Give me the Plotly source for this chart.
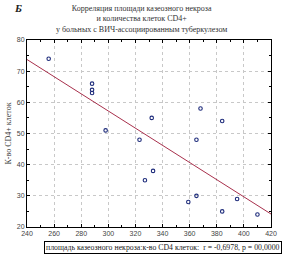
import numpy as np
import plotly.graph_objects as go

necrosis_area = [256, 288, 288, 288, 298, 323, 332, 333, 327, 368, 384, 365, 365, 359, 395, 384, 410]
cd4_count = [74, 66, 64, 63, 51, 48, 55, 38, 35, 58, 54, 48, 30, 28, 29, 25, 24]
x_ticks = [240, 260, 280, 300, 320, 340, 360, 380, 400, 420]
y_ticks = [20, 30, 40, 50, 60, 70, 80]

slope, intercept = np.polyfit(necrosis_area, cd4_count, 1)
line_x = [240, 420]
line_y = [intercept + slope * v for v in line_x]

fig = go.Figure()
fig.add_trace(go.Scatter(x=line_x, y=line_y, mode="lines",
                         line=dict(color="#a8304c", width=1), hoverinfo="skip"))
fig.add_trace(go.Scatter(x=necrosis_area, y=cd4_count, mode="markers",
                         marker=dict(symbol="circle-open", size=3.5, color="#1c2a7a",
                                     line=dict(width=1.1, color="#1c2a7a"))))

serif = "Liberation Serif"
axis_common = dict(showline=True, linecolor="black", linewidth=1, mirror="ticks",
                   ticks="inside", ticklen=3, tickcolor="black",
                   showgrid=True, gridcolor="#c8c8c8", griddash="dot", gridwidth=1,
                   zeroline=False, tickfont=dict(family="Liberation Sans", size=7, color="#444"),
                   minor=dict(ticks="inside", ticklen=2, tickcolor="black", showgrid=False))

fig.update_xaxes(range=[240, 420], tickvals=x_ticks, **axis_common)
fig.update_yaxes(range=[20, 80], tickvals=y_ticks,
                 title=dict(text="К-во CD4+ клеток", font=dict(family=serif, size=8, color="#333"), standoff=4),
                 **axis_common)

fig.add_annotation(text="Корреляция площади казеозного некроза<br>и количества клеток CD4+<br>у больных с ВИЧ-ассоциированным туберкулезом",
                   xref="paper", yref="paper", x=0.47, y=1.0, yshift=4, xanchor="center", yanchor="bottom",
                   showarrow=False, align="center",
                   font=dict(family=serif, size=8, color="#333"))
fig.add_annotation(text="<b><i>Б</i></b>", xref="paper", yref="paper", x=-0.06, y=1.17,
                   xanchor="left", yanchor="middle", showarrow=False,
                   font=dict(family=serif, size=11, color="#222"))
fig.add_annotation(text="площадь казеозного некроза:к-во CD4 клеток:  r = -0,6978, p = 00,0000",
                   xref="paper", yref="paper", x=0.07, y=0, yshift=-14, xanchor="left", yanchor="top",
                   showarrow=False, bordercolor="black", borderwidth=1, borderpad=1,
                   font=dict(family=serif, size=7.8, color="#222"))

fig.update_layout(width=284, height=255, margin=dict(l=27, r=7, t=40, b=28),
                  showlegend=False, plot_bgcolor="white", paper_bgcolor="white")
fig.write_html("out.html")
